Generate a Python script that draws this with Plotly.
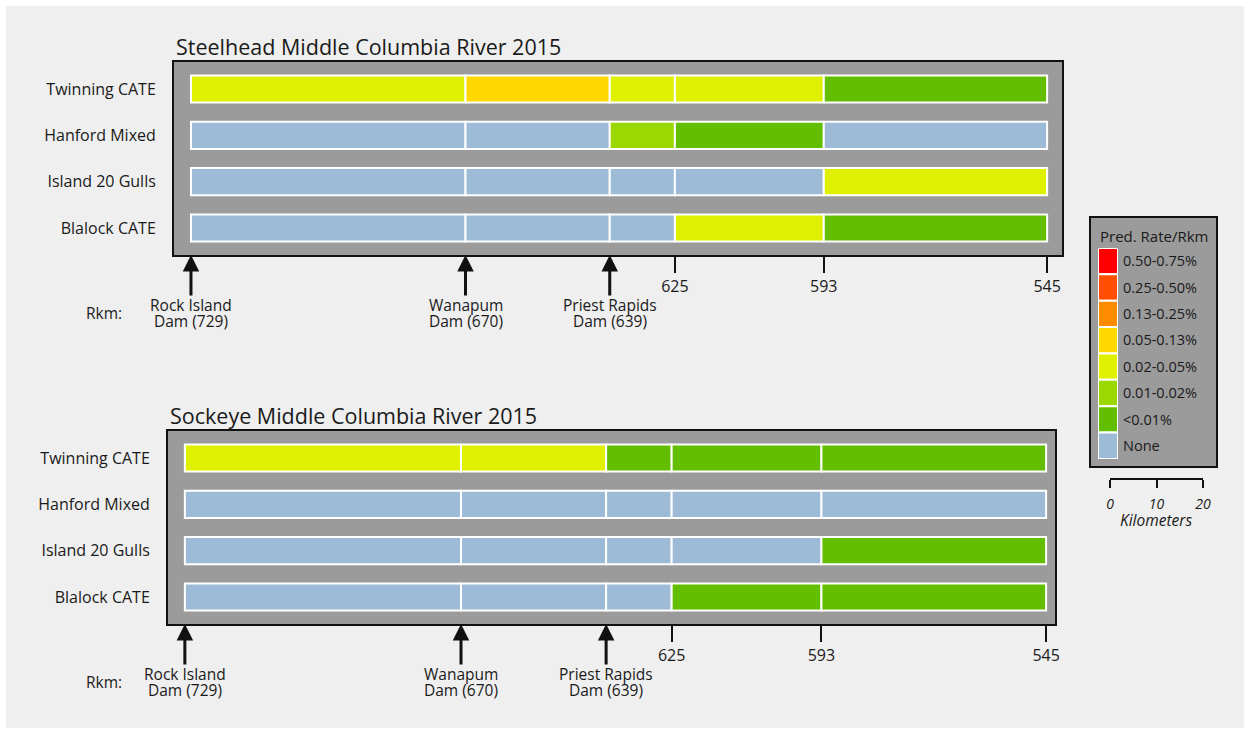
import plotly.graph_objects as go

# ---------------- data ----------------
rkm_bounds = [729, 670, 639, 625, 593, 545]
sites = ["Twinning CATE", "Hanford Mixed", "Island 20 Gulls", "Blalock CATE"]

rate_classes = ["0.50-0.75%", "0.25-0.50%", "0.13-0.25%", "0.05-0.13%",
                "0.02-0.05%", "0.01-0.02%", "<0.01%", "None"]
class_colors = ["#FF0000", "#FF4E00", "#FF8C00", "#FFD800",
                "#DFF000", "#9BD700", "#63BE00", "#9DBAD7"]

steelhead_twinning = ["0.02-0.05%", "0.05-0.13%", "0.02-0.05%", "0.02-0.05%", "<0.01%"]
steelhead_hanford = ["None", "None", "0.01-0.02%", "<0.01%", "None"]
steelhead_island20 = ["None", "None", "None", "None", "0.02-0.05%"]
steelhead_blalock = ["None", "None", "None", "0.02-0.05%", "<0.01%"]

sockeye_twinning = ["0.02-0.05%", "0.02-0.05%", "<0.01%", "<0.01%", "<0.01%"]
sockeye_hanford = ["None", "None", "None", "None", "None"]
sockeye_island20 = ["None", "None", "None", "None", "<0.01%"]
sockeye_blalock = ["None", "None", "None", "<0.01%", "<0.01%"]

dam_names = ["Rock Island", "Wanapum", "Priest Rapids"]
dam_rkm = [729, 670, 639]
tick_rkm = [625, 593, 545]
scale_km = [0, 10, 20]

panel_titles = ["Steelhead Middle Columbia River 2015", "Sockeye Middle Columbia River 2015"]

# ---------------- style ----------------
FONT = "Open Sans"
TXT = "#1a1a1a"
BOX = "#111111"
PANEL_BG = "#9B9B9B"
PAGE_BG = "#EFEFEF"

color_of = dict(zip(rate_classes, class_colors))


def panel_trace(rows, xa, ya):
    ys, bases, lens, cols = [], [], [], []
    for site, classes in zip(sites, rows):
        for i, cls in enumerate(classes):
            start, end = rkm_bounds[i], rkm_bounds[i + 1]
            ys.append(site)
            bases.append(end)
            lens.append(start - end)
            cols.append(color_of[cls])
    return go.Bar(orientation="h", y=ys, x=lens, base=bases, width=0.585,
                  marker=dict(color=cols, line=dict(color="white", width=2)),
                  xaxis=xa, yaxis=ya, showlegend=False, hoverinfo="skip")


fig = go.Figure()
fig.add_trace(panel_trace([steelhead_twinning, steelhead_hanford,
                           steelhead_island20, steelhead_blalock], "x", "y"))
fig.add_trace(panel_trace([sockeye_twinning, sockeye_hanford,
                           sockeye_island20, sockeye_blalock], "x2", "y2"))

# legend swatches
fig.add_trace(go.Bar(orientation="h", y=rate_classes, x=[1] * len(rate_classes),
                     width=1, marker=dict(color=class_colors,
                                          line=dict(color="white", width=2)),
                     xaxis="x3", yaxis="y3", showlegend=False, hoverinfo="skip"))

# scale bar carrier (invisible points on the km scale axis)
fig.add_trace(go.Scatter(x=[scale_km[0], scale_km[-1]], y=[0, 0], mode="markers",
                         marker=dict(opacity=0), xaxis="x4", yaxis="y4",
                         showlegend=False, hoverinfo="skip", cliponaxis=False))

W, H = 1250, 734


def px_x(p):
    return p / W


def px_y(p):
    return 1 - p / H


def fnt(size, **kw):
    d = dict(size=size, color=TXT, family=FONT)
    d.update(kw)
    return d


panel_x = dict(showline=True, linecolor=BOX, linewidth=2, mirror=True,
               showgrid=False, zeroline=False, tickvals=tick_rkm,
               ticks="outside", ticklen=16, tickwidth=2, tickcolor=BOX,
               automargin=False, tickfont=fnt(16))
panel_y = dict(showline=True, linecolor=BOX, linewidth=2, mirror=True,
               showgrid=False, zeroline=False, ticks="", type="category",
               categoryorder="array", categoryarray=sites,
               range=[3.585, -0.585], ticklabelstandoff=13, automargin=False,
               tickfont=fnt(16))

fig.update_layout(
    width=W, height=H, autosize=False,
    margin=dict(l=0, r=0, t=0, b=0, pad=0),
    paper_bgcolor=PAGE_BG, plot_bgcolor="rgba(0,0,0,0)",
    barmode="overlay",
    font=fnt(14),
    xaxis=dict(domain=[px_x(174), px_x(1062)], range=[732.65, 541.8],
               anchor="y", **panel_x),
    yaxis=dict(domain=[px_y(255), px_y(62)], anchor="x", **panel_y),
    xaxis2=dict(domain=[px_x(168), px_x(1055)], range=[732.6, 543.1],
                anchor="y2", **panel_x),
    yaxis2=dict(domain=[px_y(624), px_y(431)], anchor="x2", **panel_y),
    xaxis3=dict(domain=[px_x(1098), px_x(1118)], range=[0, 1], visible=False,
                anchor="y3", automargin=False),
    yaxis3=dict(domain=[px_y(459), px_y(248)], anchor="x3", side="right",
                type="category", categoryorder="array", categoryarray=rate_classes,
                range=[7.5, -0.5], showgrid=False, zeroline=False, ticks="",
                showline=False, ticklabelstandoff=4, automargin=False,
                tickvals=rate_classes,
                ticktext=[c.replace("<", "&lt;") for c in rate_classes],
                tickfont=fnt(14.5)),
    xaxis4=dict(domain=[px_x(1110), px_x(1203)], range=[scale_km[0], scale_km[-1]],
                anchor="y4", automargin=False,
                showline=True, linecolor=BOX, linewidth=2,
                showgrid=False, zeroline=False, tickvals=scale_km,
                ticks="outside", ticklen=8, tickwidth=2, tickcolor=BOX,
                ticklabelstandoff=4,
                tickfont=fnt(14, style="italic")),
    yaxis4=dict(domain=[px_y(478), px_y(470)], range=[0, 1], visible=False,
                anchor="x4", automargin=False),
)

shapes = [
    dict(type="rect", xref="x domain", yref="y domain", x0=0, x1=1, y0=0, y1=1,
         fillcolor=PANEL_BG, line=dict(width=0), layer="below"),
    dict(type="rect", xref="x2 domain", yref="y2 domain", x0=0, x1=1, y0=0, y1=1,
         fillcolor=PANEL_BG, line=dict(width=0), layer="below"),
    dict(type="rect", xref="paper", yref="paper",
         x0=px_x(1090), x1=px_x(1217), y0=px_y(467), y1=px_y(217),
         fillcolor=PANEL_BG, line=dict(color=BOX, width=2), layer="below"),
    dict(type="rect", xref="paper", yref="paper", x0=0, x1=1, y0=0, y1=1,
         line=dict(color="white", width=12), fillcolor="rgba(0,0,0,0)",
         layer="above"),
]

annotations = []
for k, (xa, ya) in enumerate([("x", "y"), ("x2", "y2")]):
    annotations.append(dict(text=panel_titles[k], xref=xa + " domain", x=0,
                            yref=ya + " domain", y=1, xanchor="left",
                            yanchor="bottom", yshift=-1, showarrow=False,
                            font=fnt(21.5)))
    for name, r in zip(dam_names, dam_rkm):
        annotations.append(dict(text="", xref=xa, x=r, yref=ya + " domain", y=0,
                                showarrow=True, ax=0, ay=42, arrowhead=2,
                                arrowsize=1.1, arrowwidth=3, arrowcolor=BOX,
                                standoff=0))
        annotations.append(dict(text=name, xref=xa, x=r, yref=ya + " domain",
                                y=0, yshift=-50, showarrow=False,
                                xanchor="center", yanchor="middle",
                                font=fnt(15.5)))
        annotations.append(dict(text="Dam (%d)" % r, xref=xa, x=r,
                                yref=ya + " domain", y=0, yshift=-66,
                                showarrow=False, xanchor="center",
                                yanchor="middle", font=fnt(15.5)))
    annotations.append(dict(text="Rkm:", xref="paper", x=px_x(104),
                            yref=ya + " domain", y=0, yshift=-58,
                            showarrow=False, xanchor="center", yanchor="middle",
                            font=fnt(15.5)))

annotations.append(dict(text="Pred. Rate/Rkm", xref="paper", x=px_x(1154),
                        yref="paper", y=px_y(236), showarrow=False,
                        xanchor="center", yanchor="middle", font=fnt(15)))
annotations.append(dict(text="Kilometers", xref="paper", x=px_x(1156),
                        yref="paper", y=px_y(520), showarrow=False,
                        xanchor="center", yanchor="middle",
                        font=fnt(15.5, style="italic")))

fig.update_layout(shapes=shapes, annotations=annotations)

fig.write_html(
    "out.html",
    config={"displayModeBar": False},
    post_script="document.body.style.margin='0';document.body.style.overflow='hidden';",
)
